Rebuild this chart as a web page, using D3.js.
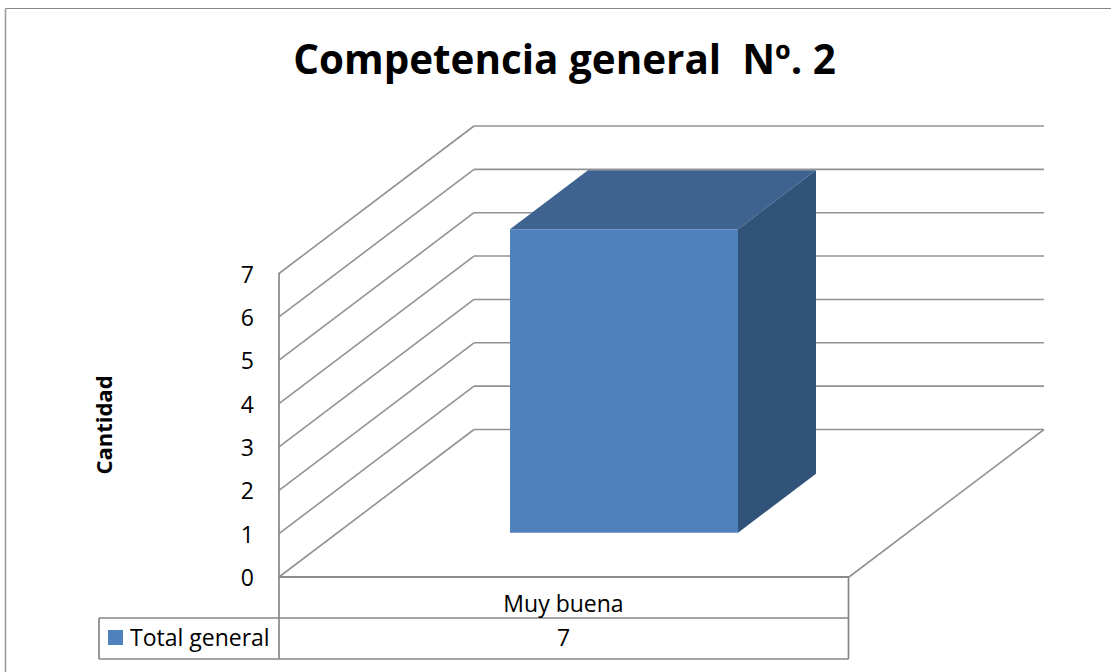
<!DOCTYPE html>
<html><head><meta charset="utf-8">
<script src="https://cdn.jsdelivr.net/npm/d3@7"></script>
<style>html,body{margin:0;padding:0;background:#fff}svg{display:block}text{font-family:"Open Sans",Lato,sans-serif;fill:#000;white-space:pre}</style>
</head><body><svg id="c" width="1111" height="672"></svg>
<script>
const titleText = "Competencia general  Nº. 2";
const yAxisTitle = "Cantidad";
const categories = ["Muy buena"];
const seriesName = "Total general";
const seriesValues = [7];
const yTicks = [0,1,2,3,4,5,6,7];

const svg = d3.select("#c");
const grid = "#929292";
const y = d3.scaleLinear().domain([0,7]).range([577,273.5]);
const x = d3.scaleBand().domain(categories).range([279,849]);
const depth = d3.scaleLinear().domain([0,1]).range([0,1]);
const DX = 195, DY = -147.5;
const line = (x1,y1,x2,y2,c=grid,w=1.6)=>svg.append("line").attr("x1",x1).attr("y1",y1).attr("x2",x2).attr("y2",y2).attr("stroke",c).attr("stroke-width",w);

// chart frame
line(5.5,8.5,1111,8.5,"#868686",1.2);
line(5.5,8.5,5.5,672,"#9a9a9a",1.6);

// title
svg.append("text").attr("x",564.5).attr("y",74).attr("text-anchor","middle").attr("font-size",40.4).attr("font-weight",700).text(titleText);

// walls and gridlines
yTicks.forEach(t=>{
  const yy=y(t);
  line(279,yy,279+DX,yy+DY);
  line(279+DX,yy+DY,279+DX+570,yy+DY);
});
// floor
line(849,577,1044,429.5);
line(279,577,849,577,"#8c8c8c",1.8);

// bars
const pad = 0.3;
const d0 = 0.3, d1 = 0.7;
categories.forEach((c,i)=>{
  const b0 = x(c)+x.bandwidth()*pad+1.5, w = x.bandwidth()*(1-2*pad);
  const ox = depth(d0)*DX, oy = depth(d0)*DY;
  const ddx = depth(d1-d0)*DX, ddy = depth(d1-d0)*DY;
  const xl = b0+ox, xr = xl+w, yb = y(0)+oy, yt = y(seriesValues[i])+oy;
  const poly=(pts,f)=>svg.append("polygon").attr("points",pts.map(p=>p.join(",")).join(" ")).attr("fill",f);
  poly([[xl,yt],[xr,yt],[xr+ddx,yt+ddy],[xl+ddx,yt+ddy]],"#3e6390");
  poly([[xr,yt],[xr+ddx,yt+ddy],[xr+ddx,yb+ddy],[xr,yb]],"#325379");
  poly([[xl,yt],[xr,yt],[xr,yb],[xl,yb]],"#4f81bd");
});

// y ticks
svg.append("g").selectAll("text").data(yTicks).join("text")
  .attr("x",254).attr("y",d=>y(d)+9).attr("text-anchor","end").attr("font-size",23).text(d=>d);
// y title
svg.append("text").attr("transform","translate(111.5,425) rotate(-90)").attr("text-anchor","middle").attr("font-size",22).attr("font-weight",700).text(yAxisTitle);

// data table
const tc="#868686";
line(279,273,279,659,tc,1.7);
line(848.5,577,848.5,659,tc,1.7);
line(99,618,848.5,618,tc,1.7);
line(99,659,848.5,659,tc,1.7);
line(99,618,99,659,tc,1.7);
categories.forEach((c,i)=>{
  svg.append("text").attr("x",x(c)+x.bandwidth()/2-0.5).attr("y",611.5).attr("text-anchor","middle").attr("font-size",23).text(c);
  svg.append("text").attr("x",x(c)+x.bandwidth()/2-0.5).attr("y",646).attr("text-anchor","middle").attr("font-size",23).text(seriesValues[i]);
});
svg.append("rect").attr("x",108).attr("y",630).attr("width",15).attr("height",15).attr("fill","#4f81bd");
svg.append("text").attr("x",130).attr("y",646).attr("font-size",23).text(seriesName);
</script></body></html>
